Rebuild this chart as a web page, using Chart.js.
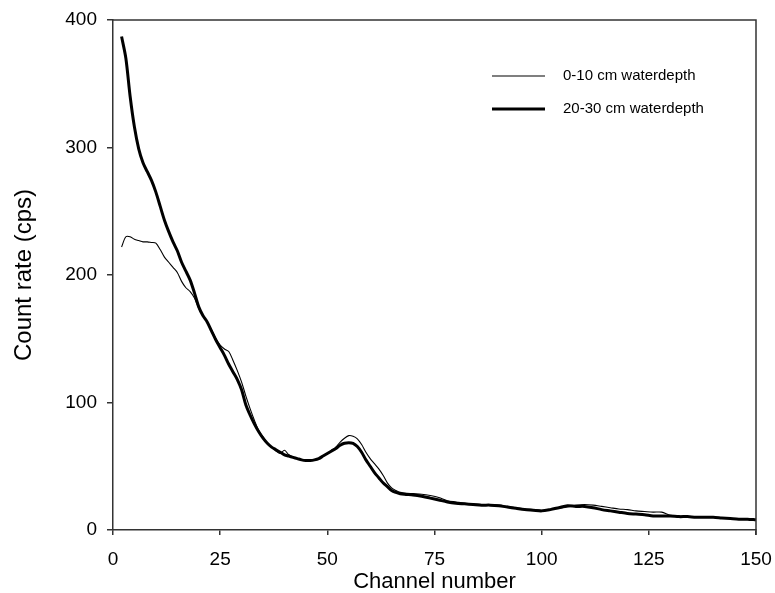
<!DOCTYPE html>
<html>
<head>
<meta charset="utf-8">
<script src="https://cdn.jsdelivr.net/npm/chart.js@4/dist/chart.umd.min.js"></script>
<style>
  html, body { margin: 0; padding: 0; background: #fff; }
  #wrap { width: 775px; height: 593px; }
</style>
</head>
<body>
<div id="wrap"><canvas id="c" width="775" height="593"></canvas></div>
<script>
// Gamma spectra: count rate per channel at two water depths
const channels = [2,3,4,5,6,7,8,9,10,11,12,13,14,15,16,17,18,19,20,21,22,23,24,25,26,27,28,29,30,
  31,32,33,34,35,36,37,38,39,40,41,42,43,44,45,46,47,48,49,50,51,52,53,54,55,56,57,58,59,60,
  61,62,63,64,65,66,67,68,70,72,74,76,78,80,82,84,86,88,90,92,94,96,98,100,102,104,106,108,110,
  112,114,116,118,120,122,124,126,128,130,132,134,136,138,140,142,144,146,148,150];

const shallow = [222,230,230,228,227,226,226,225.5,225,220,214,210,206,202,195,190,187,182,174,168,163,157,150,145,142,140,133,125,116,
  105,95,86,78,73,68,65,62,60,62.5,59,57,56,55,54.5,54.5,55,56,58,60,62.5,65,69,72,74,73.5,71.5,67,61,56,
  52,48,43,37,33,31,29.5,29,28.5,28,27,25.5,23,22,21,20.5,20,20,19.5,18.5,17.5,16.5,16,15.5,16,17,18,19.5,20,
  19.5,18.5,17.5,16.5,16,15,14.5,14,14,11.5,11,10.5,10.5,10,10,9.5,9,9,8.5,8];

const deep = [387,370,340,316,299,288,281,274,265,254,243,234,226,219,210,203,196,186,175,168,163,156,149,143,137,130,124,118,110,
  98,90,83,77,72,68,65,63,61,59,58,57,56,55,54.5,54.5,55,56,58,60,62,64,66.5,68,68.5,68,65.5,61,55,50,
  45,41,37,34,31,29.5,28.5,28,27.5,26.5,25,23.5,22,21,20.5,20,19.5,19.5,19,18,17,16,15.5,15,16,17.5,19,18.5,18.5,
  17.5,16,15,14,13,12.5,12,11,11,11,10.5,10.5,10,10,10,9.5,9,8.5,8.5,8];

const seriesLabels = ['0-10 cm waterdepth', '20-30 cm waterdepth'];
const xTicks = [0, 25, 50, 75, 100, 125, 150];
const yTicks = [0, 100, 200, 300, 400];

const FONT = '"Liberation Sans", Arial, Helvetica, sans-serif';
const INK = '#000';
const AXIS = '#333';

const toPoints = vals => channels.map((ch, i) => ({ x: ch, y: vals[i] }));

// Closes the plot box on the top and right sides
const frame = {
  id: 'frame',
  afterDraw(chart) {
    const { ctx, chartArea: a } = chart;
    ctx.save();
    ctx.strokeStyle = AXIS;
    ctx.lineWidth = 1.5;
    ctx.beginPath();
    ctx.moveTo(a.left, a.top);
    ctx.lineTo(a.right, a.top);
    ctx.lineTo(a.right, a.bottom + 5);
    ctx.stroke();
    ctx.restore();
  }
};

// Legend placed inside the plot, upper right
const insideLegend = {
  id: 'insideLegend',
  afterDraw(chart) {
    const { ctx } = chart;
    ctx.save();
    ctx.font = '15px ' + FONT;
    ctx.fillStyle = INK;
    ctx.textBaseline = 'middle';
    chart.data.datasets.forEach((ds, i) => {
      const y = 76 + i * 33;
      ctx.strokeStyle = ds.borderColor;
      ctx.lineWidth = ds.borderWidth;
      ctx.beginPath();
      ctx.moveTo(492, y);
      ctx.lineTo(545, y);
      ctx.stroke();
      ctx.fillText(ds.label, 563, y);
    });
    ctx.restore();
  }
};

new Chart(document.getElementById('c'), {
  type: 'line',
  data: {
    datasets: [
      {
        label: seriesLabels[0],
        data: toPoints(shallow),
        borderColor: INK,
        borderWidth: 1.1,
        pointRadius: 0,
        tension: 0.3,
        fill: false,
        order: 1
      },
      {
        label: seriesLabels[1],
        data: toPoints(deep),
        borderColor: INK,
        borderWidth: 3,
        pointRadius: 0,
        tension: 0.3,
        fill: false,
        order: 2
      }
    ]
  },
  options: {
    responsive: false,
    animation: false,
    devicePixelRatio: 1,
    layout: { padding: { top: 20, right: 19, left: 0, bottom: 0 } },
    plugins: {
      legend: { display: false },
      tooltip: { enabled: false }
    },
    scales: {
      x: {
        type: 'linear',
        min: 0,
        max: 150,
        afterFit(scale) {
          scale.height = 63;
          scale.paddingLeft = 0;
          scale.paddingRight = 0;
        },
        afterBuildTicks(scale) { scale.ticks = xTicks.map(v => ({ value: v })); },
        border: { display: true, color: AXIS, width: 1.5 },
        grid: { display: true, drawOnChartArea: false, drawTicks: true, tickLength: 5, color: AXIS, lineWidth: 1.5 },
        ticks: { color: INK, font: { family: FONT, size: 19 }, padding: 13, maxRotation: 0 },
        title: { display: true, text: 'Channel number', color: INK, font: { family: FONT, size: 22, lineHeight: 1.0 }, padding: { top: 0, bottom: 0 } }
      },
      y: {
        min: 0,
        max: 400,
        afterFit(scale) {
          scale.width = 113;
          scale.paddingTop = 0;
          scale.paddingBottom = 0;
        },
        afterBuildTicks(scale) { scale.ticks = yTicks.map(v => ({ value: v })); },
        border: { display: true, color: AXIS, width: 1.5 },
        grid: { display: true, drawOnChartArea: false, drawTicks: true, tickLength: 6, color: AXIS, lineWidth: 1.5 },
        ticks: { color: INK, font: { family: FONT, size: 19 }, padding: 10 },
        title: { display: true, text: 'Count rate (cps)', color: INK, font: { family: FONT, size: 24, lineHeight: 1.0 }, padding: { top: 12, bottom: 0 } }
      }
    }
  },
  plugins: [frame, insideLegend]
});
</script>
</body>
</html>
